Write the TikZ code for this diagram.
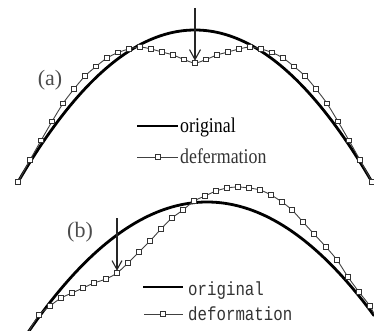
\documentclass[tikz,border=0pt]{standalone}
\usepackage{fontspec}
\setmainfont{Liberation Serif}
\newfontfamily\monofnt{Liberation Mono}
\usetikzlibrary{arrows.meta}
\begin{document}
\begin{tikzpicture}[x=1pt,y=-1pt,
  orig/.style={line width=2.8pt, black, line cap=round},
  defo/.style={line width=0.9pt, black!75},
  mk/.style={draw=black!80, fill=white, line width=0.8pt, minimum size=4.6pt, inner sep=0, outer sep=0},
  force/.style={line width=1.1pt, black!85, -{Straight Barb[length=10pt,width=11pt,line width=1.1pt]}},
  lbl/.style={font=\fontsize{22}{22}\selectfont, text=black!70, inner sep=0},
  leg/.style={font=\fontsize{21}{21}\selectfont, anchor=base west, inner sep=0},
  legm/.style={font=\monofnt\fontsize{19}{19}\selectfont, anchor=base west, inner sep=0, text=black!80},
]
\useasboundingbox (0,0) rectangle (374,331);

% ---------- panel (a)
\draw[orig] plot[domain=18:372, samples=90] (\x, {30+152*((\x-195)/177)^2});
\draw[defo] plot[smooth] coordinates {
 (18,182) (30,160) (41,140.5) (52,121.5) (63,103.5) (74,89) (85,76) (96,66.5)
 (107,58) (118,52.5) (129,49) (140,47) (151,49) (162,52) (173,55) (184,59.5)
 (195,63)
 (206,59.5) (217,55) (228,52) (239,49) (250,47) (261,49) (272,52.5) (283,58)
 (294,66.5) (305,76) (316,89) (327,103.5) (338,121.5) (349,140.5) (360,160) (372,182)};
\foreach \p [count=\i] in {
 (18,182),(30,160),(41,140.5),(52,121.5),(63,103.5),(74,89),(85,76),(96,66.5),
 (107,58),(118,52.5),(129,49),(140,47),(151,49),(162,52),(173,55),(184,59.5),
 (195,63),
 (206,59.5),(217,55),(228,52),(239,49),(250,47),(261,49),(272,52.5),(283,58),
 (294,66.5),(305,76),(316,89),(327,103.5),(338,121.5),(349,140.5),(360,160),(372,182)}
  \node[mk] (ma\i) at \p {};
\coordinate (fa0) at (195,8);
\draw[force] (fa0) -- (ma17.north);
\node[lbl] (la) at (50,80) {(a)};
\coordinate (a1s) at (137,126); \coordinate (a1e) at (178,126);
\draw[orig, line cap=butt] (a1s) -- (a1e);
\node[leg] (ta1) at (180,132.5) {\scalebox{0.85}[1]{original}};
\coordinate (a2s) at (137,157); \coordinate (a2e) at (178,157);
\draw[defo] (a2s) -- (a2e);
\node[mk] (ma0) at (158,157) {};
\node[leg, text=black!80] (ta2) at (180,163) {\scalebox{0.85}[1]{defermation}};

% ---------- panel (b)
\draw[orig] plot[domain=28:374, samples=90] (\x, {202+130*((\x-207)/178.7)^2});
\draw[defo] plot[smooth] coordinates {
 (29,331) (39,315) (50,306) (61,298) (72,293) (83,288) (94,283) (106,279)
 (117,273) (128,263) (139,252) (150,241) (161,229) (172,218) (183,210)
 (194,201) (205,196) (216,191) (227,188) (238,187) (249,188) (260,190)
 (271,195) (282,202) (292,210) (303,222) (314,234) (326,247) (337,260)
 (348,277) (359,292) (370,306) (374,314)};
\foreach \p [count=\i] in {
 (39,315),(50,306),(61,298),(72,293),(83,288),(94,283),(106,279),
 (117,273),(128,263),(139,252),(150,241),(161,229),(172,218),(183,210),
 (194,201),(205,196),(216,191),(227,188),(238,187),(249,188),(260,190),
 (271,195),(282,202),(292,210),(303,222),(314,234),(326,247),(337,260),
 (348,277),(359,292),(370,306)}
  \node[mk] (mb\i) at \p {};
\coordinate (fb0) at (117,218);
\draw[force, -{Straight Barb[length=9pt,width=10pt,line width=1.1pt]}] (fb0) -- (mb8.north);
\node[lbl] (lb) at (80,232) {(b)};
\coordinate (b1s) at (143,287); \coordinate (b1e) at (183,287);
\draw[orig, line cap=butt] (b1s) -- (b1e);
\node[legm] (tb1) at (188,295) {\scalebox{0.83}[1]{original}};
\coordinate (b2s) at (144,314); \coordinate (b2e) at (183,314);
\draw[defo] (b2s) -- (b2e);
\node[mk] (mb0) at (163,314) {};
\node[legm] (tb2) at (188,320) {\scalebox{0.83}[1]{deformation}};
\end{tikzpicture}
\end{document}
